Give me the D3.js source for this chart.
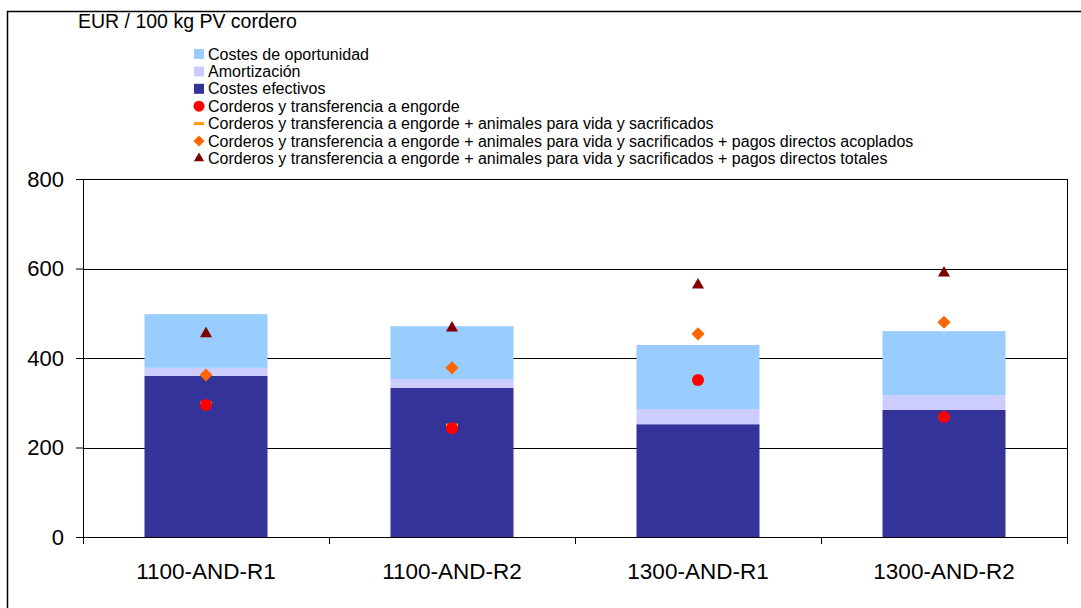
<!DOCTYPE html>
<html>
<head>
<meta charset="utf-8">
<script src="https://cdn.jsdelivr.net/npm/d3@7"></script>
<style>
  html, body { margin: 0; padding: 0; background: #fff; }
  svg { display: block; font-family: "Liberation Sans", Arial, sans-serif; }
</style>
</head>
<body>
<div id="chart"></div>
<script>
// Data
const categories = ["1100-AND-R1", "1100-AND-R2", "1300-AND-R1", "1300-AND-R2"];
const costesEfectivos = [360, 333, 252, 284];
const amortizacion = [18, 20, 34, 33];
const costesOportunidad = [120, 118, 143, 143];
const corderos = [295, 243, 351, 268];
const corderosAnimales = [299, 250, 351, 268];
const corderosAcoplados = [362, 378, 454, 480];
const corderosTotales = [454, 467, 563, 590];
const yTicks = [0, 200, 400, 600, 800];

const legendItems = [
  { label: "Costes de oportunidad", type: "square", color: "#99ccff" },
  { label: "Amortización", type: "square", color: "#ccccff" },
  { label: "Costes efectivos", type: "square", color: "#333399" },
  { label: "Corderos y transferencia a engorde", type: "circle", color: "#ff0000" },
  { label: "Corderos y transferencia a engorde + animales para vida y sacrificados", type: "dash", color: "#ff9900" },
  { label: "Corderos y transferencia a engorde + animales para vida y sacrificados + pagos directos acoplados", type: "diamond", color: "#ff6600" },
  { label: "Corderos y transferencia a engorde + animales para vida y sacrificados + pagos directos totales", type: "triangle", color: "#800000" }
];

const width = 1081, height = 608;
const margin = { top: 179, right: 14, bottom: 71, left: 83 };
const innerWidth = width - margin.left - margin.right;
const innerHeight = height - margin.top - margin.bottom;

const svg = d3.select("#chart").append("svg")
  .attr("width", width)
  .attr("height", height);

// outer frame (right and bottom edges fall outside the picture)
svg.append("rect")
  .attr("x", 7.5).attr("y", 11.5)
  .attr("width", width + 20).attr("height", height + 20)
  .attr("fill", "none").attr("stroke", "#000").attr("stroke-width", 1.5);

svg.append("text")
  .attr("x", 78).attr("y", 28)
  .attr("font-size", 19.5)
  .text("EUR / 100 kg PV cordero");

const g = svg.append("g").attr("transform", `translate(${margin.left},${margin.top})`);

const x = d3.scaleBand().domain(categories).range([0, innerWidth])
  .paddingInner(0.5).paddingOuter(0.25);
const y = d3.scaleLinear().domain([0, 800]).range([innerHeight, 0]);

// gridlines
g.selectAll(".grid").data(yTicks.filter(d => d > 0)).enter()
  .append("line")
  .attr("x1", 0).attr("x2", innerWidth)
  .attr("y1", d => Math.round(y(d)) + 0.5).attr("y2", d => Math.round(y(d)) + 0.5)
  .attr("stroke", "#000").attr("stroke-width", 1);

// right border of plot
g.append("line")
  .attr("x1", innerWidth + 0.5).attr("x2", innerWidth + 0.5)
  .attr("y1", 0).attr("y2", innerHeight + 7)
  .attr("stroke", "#000");

// stacked bars
const stackRows = categories.map((c, i) => ({
  cat: c, efectivos: costesEfectivos[i], amort: amortizacion[i], oport: costesOportunidad[i]
}));
const stack = d3.stack().keys(["efectivos", "amort", "oport"])(stackRows);
const barColors = { efectivos: "#333399", amort: "#ccccff", oport: "#99ccff" };

g.selectAll(".layer").data(stack).enter()
  .append("g").attr("fill", d => barColors[d.key])
  .selectAll("rect").data(d => d).enter()
  .append("rect")
  .attr("x", d => x(d.data.cat))
  .attr("width", x.bandwidth())
  .attr("y", d => y(d[1]))
  .attr("height", d => y(d[0]) - y(d[1]));

// axes
const yAxis = g.append("g")
  .call(d3.axisLeft(y).tickValues(yTicks).tickSize(7).tickPadding(12));
yAxis.selectAll("text").attr("font-size", 22).attr("fill", "#000")
  .attr("font-family", "Liberation Sans, Arial, sans-serif");
yAxis.selectAll("line, path").attr("stroke", "#000");
yAxis.select(".domain").attr("d", `M-7,0.5H0.5V${innerHeight}`);

const xAxis = g.append("g").attr("transform", `translate(0,${innerHeight})`)
  .call(d3.axisBottom(x).tickSize(0).tickPadding(26));
xAxis.select(".domain").attr("stroke", "#000");
xAxis.selectAll("text").attr("font-size", 22.5).attr("fill", "#000")
  .attr("font-family", "Liberation Sans, Arial, sans-serif");
// category separator ticks
const step = x.step();
const sepTicks = d3.range(categories.length + 1);
g.selectAll(".ctick").data(sepTicks).enter()
  .append("line")
  .attr("x1", i => Math.round(step * 0.25 * 0 + i * step) + 0.5)
  .attr("x2", i => Math.round(i * step) + 0.5)
  .attr("y1", innerHeight).attr("y2", innerHeight + 7)
  .attr("stroke", "#000");

const cx = i => x(categories[i]) + x.bandwidth() / 2;

// markers
g.selectAll(".dash").data(corderosAnimales).enter()
  .append("rect")
  .attr("x", (d, i) => cx(i) - 6).attr("y", d => y(d) - 1.5)
  .attr("width", 12).attr("height", 3)
  .attr("fill", "#ff9900");

g.selectAll(".dot").data(corderos).enter()
  .append("circle")
  .attr("cx", (d, i) => cx(i)).attr("cy", d => y(d))
  .attr("r", 6).attr("fill", "#ff0000");

const diamond = d3.symbol().type(d3.symbolDiamond2).size(110);
g.selectAll(".diamond").data(corderosAcoplados).enter()
  .append("path")
  .attr("d", diamond)
  .attr("transform", (d, i) => `translate(${cx(i)},${y(d)})`)
  .attr("fill", "#ff6600");

const tri = d3.symbol().type(d3.symbolTriangle2).size(105);
g.selectAll(".tri").data(corderosTotales).enter()
  .append("path")
  .attr("d", tri)
  .attr("transform", (d, i) => `translate(${cx(i)},${y(d)})`)
  .attr("fill", "#800000");

// legend
const legend = svg.append("g").attr("transform", "translate(194,54)");
const rowH = 17.4;
const li = legend.selectAll(".li").data(legendItems).enter()
  .append("g").attr("transform", (d, i) => `translate(0,${i * rowH})`);

li.each(function (d) {
  const s = d3.select(this);
  if (d.type === "square") {
    s.append("rect").attr("x", 0).attr("y", -5).attr("width", 10).attr("height", 10).attr("fill", d.color);
  } else if (d.type === "circle") {
    s.append("circle").attr("cx", 5).attr("cy", 0).attr("r", 5.5).attr("fill", d.color);
  } else if (d.type === "dash") {
    s.append("rect").attr("x", 0).attr("y", -1.5).attr("width", 10).attr("height", 3).attr("fill", d.color);
  } else if (d.type === "diamond") {
    s.append("path").attr("d", d3.symbol().type(d3.symbolDiamond2).size(80)())
      .attr("transform", "translate(5,0)").attr("fill", d.color);
  } else {
    s.append("path").attr("d", d3.symbol().type(d3.symbolTriangle2).size(75)())
      .attr("transform", "translate(5,0)").attr("fill", d.color);
  }
});

li.append("text")
  .attr("x", 14).attr("y", 0).attr("dy", "0.35em")
  .attr("font-size", 16)
  .text(d => d.label);
</script>
</body>
</html>
